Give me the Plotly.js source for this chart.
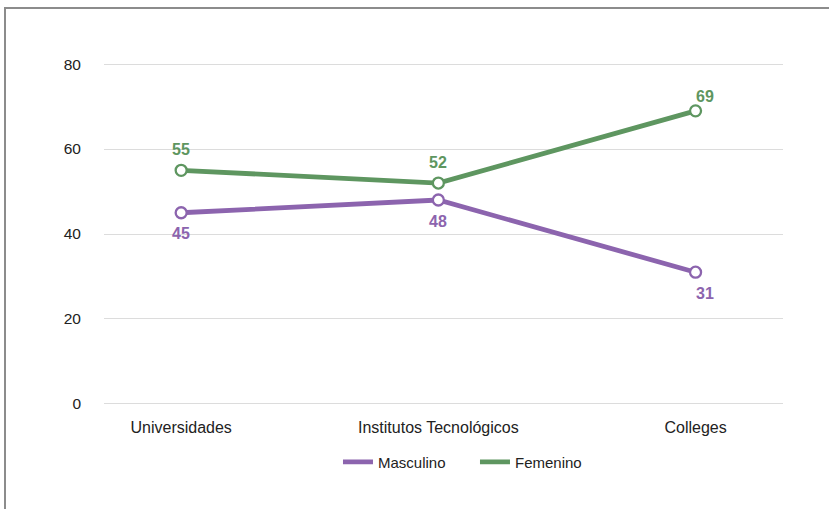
<!DOCTYPE html>
<html>
<head>
<meta charset="utf-8">
<script src="https://cdn.plot.ly/plotly-3.0.1.min.js"></script>
<style>
  html, body { margin: 0; padding: 0; width: 829px; height: 509px; overflow: hidden; background: #fff; }
  #frame { position: absolute; left: 4px; top: 7px; width: 900px; height: 600px; border: 2px solid #8c8c8c; box-sizing: border-box; }
  #chart { position: absolute; left: 0; top: 0; width: 829px; height: 509px; }
</style>
</head>
<body>
<div id="frame"></div>
<div id="chart"></div>
<script>
const categories = ["Universidades", "Institutos Tecnológicos", "Colleges"];
const masculino = [45, 48, 31];
const femenino = [55, 52, 69];
const yTicks = [0, 20, 40, 60, 80];

const purple = "#8c64ae";
const green = "#5e9660";

const traces = [];
function addSeries(name, values, color) {
  traces.push({
    x: categories, y: values, name: name, type: "scatter", mode: "lines",
    line: { color: color, width: 4.8 }, hoverinfo: "skip", showlegend: true
  });
  traces.push({
    x: categories, y: values, name: name, type: "scatter", mode: "markers",
    marker: { color: "#ffffff", size: 11, line: { color: color, width: 2.3 } },
    showlegend: false, hoverinfo: "skip", cliponaxis: false
  });
}
addSeries("Masculino", masculino, purple);
addSeries("Femenino", femenino, green);

const annotations = [];
categories.forEach((c, i) => {
  const last = i === categories.length - 1;
  annotations.push({
    x: c, y: femenino[i], text: String(femenino[i]), showarrow: false,
    yshift: last ? 14 : 21, xshift: last ? 9 : 0,
    font: { family: "Liberation Sans, Arial, sans-serif", size: 16, color: green, weight: "bold" }
  });
  annotations.push({
    x: c, y: masculino[i], text: String(masculino[i]), showarrow: false,
    yshift: -21, xshift: last ? 9 : 0,
    font: { family: "Liberation Sans, Arial, sans-serif", size: 16, color: purple, weight: "bold" }
  });
});

const layout = {
  width: 829, height: 509,
  paper_bgcolor: "rgba(0,0,0,0)", plot_bgcolor: "rgba(0,0,0,0)",
  margin: { l: 104, r: 46, t: 62, b: 103 },
  font: { family: "Liberation Sans, Arial, sans-serif", size: 16, color: "#222" },
  xaxis: {
    type: "category", range: [-0.3, 2.34], showgrid: false, zeroline: false,
    showline: false, ticks: "", ticklabelstandoff: 10,
    tickfont: { size: 16, color: "#222" }, fixedrange: true
  },
  yaxis: {
    range: [-0.5, 80.5], tickvals: yTicks, ticktext: yTicks.map(String),
    showgrid: true, gridcolor: "#dcdcdc", gridwidth: 1, zeroline: false,
    showline: false, ticks: "", ticklabelstandoff: 22,
    tickfont: { size: 15.5, color: "#222" }, fixedrange: true
  },
  showlegend: true,
  legend: {
    orientation: "h", x: 0.3446, xanchor: "left", y: -0.163, yanchor: "middle",
    font: { size: 15, color: "#222" }, itemwidth: 30, entrywidth: 92,
    bgcolor: "rgba(0,0,0,0)"
  },
  annotations: annotations
};

Plotly.newPlot("chart", traces, layout, { displayModeBar: false, staticPlot: true });
</script>
</body>
</html>
